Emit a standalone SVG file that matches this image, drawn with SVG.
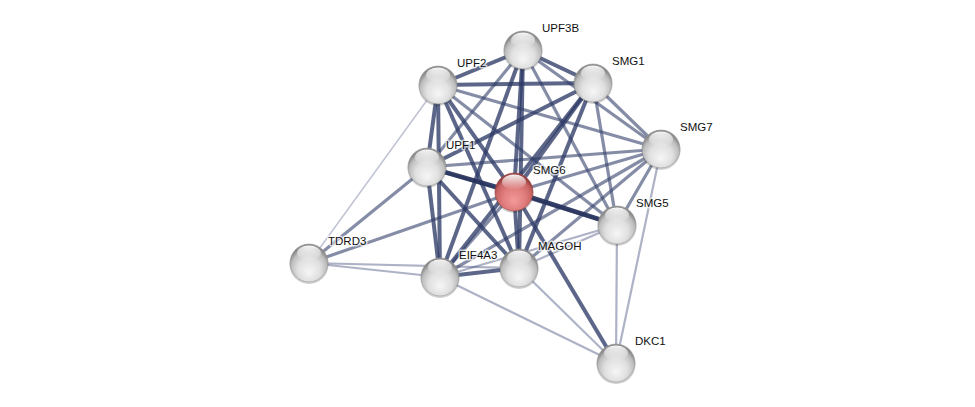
<svg xmlns="http://www.w3.org/2000/svg" width="975" height="407" viewBox="0 0 975 407">
<defs>
<radialGradient id="gw" cx="50%" cy="62%" r="55%" fx="50%" fy="75%">
<stop offset="0" stop-color="#f6f6f6"/>
<stop offset="0.55" stop-color="#e0e0e0"/>
<stop offset="0.85" stop-color="#bdbdbd"/>
<stop offset="1" stop-color="#8a8a8a"/>
</radialGradient>
<radialGradient id="gr" cx="50%" cy="62%" r="55%" fx="50%" fy="75%">
<stop offset="0" stop-color="#f49a9a"/>
<stop offset="0.55" stop-color="#e07c7c"/>
<stop offset="0.85" stop-color="#c86464"/>
<stop offset="1" stop-color="#9a4040"/>
</radialGradient>
<linearGradient id="hl" x1="0" y1="0" x2="0" y2="1">
<stop offset="0" stop-color="#fff" stop-opacity="0.95"/>
<stop offset="1" stop-color="#fff" stop-opacity="0"/>
</linearGradient>
<g id="node">
<circle r="19.5" fill="#000" opacity="0.18" cy="1.5"/>
<circle r="19" fill="url(#gw)" stroke="#9a9a9a" stroke-width="0.6"/>
<ellipse cx="0" cy="-10" rx="12" ry="7.5" fill="url(#hl)"/>
</g>
<g id="rnode">
<circle r="19.5" fill="#000" opacity="0.18" cy="1.5"/>
<circle r="19" fill="url(#gr)" stroke="#a04a4a" stroke-width="0.6"/>
<ellipse cx="0" cy="-10" rx="12" ry="7.5" fill="url(#hl)"/>
</g>
</defs>
<style>
.e0{stroke:#27325c;stroke-width:4.5;stroke-opacity:0.92;fill:none}
.e1{stroke:#2e3b66;stroke-width:4;stroke-opacity:0.78;fill:none}
.e2{stroke:#3a4670;stroke-width:3.2;stroke-opacity:0.62;fill:none}
.e3{stroke:#4a5580;stroke-width:2.2;stroke-opacity:0.45;fill:none}
.e4{stroke:#5a6490;stroke-width:1.6;stroke-opacity:0.38;fill:none}
text{font-family:"Liberation Sans",Arial,sans-serif;font-size:11.5px;fill:#111;stroke:#fff;stroke-width:3;stroke-opacity:0.7;paint-order:stroke;stroke-linejoin:round}
</style>
<rect width="975" height="407" fill="#fff"/>
<g id="edges">
<line class="e4" x1="438" y1="85" x2="309" y2="263"/>
<line class="e3" x1="309" y1="263" x2="440" y2="277"/>
<line class="e3" x1="309" y1="263" x2="519" y2="268"/>
<line class="e3" x1="440" y1="277" x2="616" y2="363"/>
<line class="e3" x1="519" y1="268" x2="616" y2="363"/>
<line class="e3" x1="617" y1="225" x2="616" y2="363"/>
<line class="e3" x1="661" y1="149" x2="616" y2="363"/>
<line class="e3" x1="617" y1="225" x2="519" y2="268"/>
<line class="e3" x1="617" y1="225" x2="440" y2="277"/>
<line class="e2" x1="661" y1="149" x2="519" y2="268"/>
<line class="e2" x1="661" y1="149" x2="440" y2="277"/>
<line class="e2" x1="661" y1="149" x2="617" y2="225"/>
<line class="e2" x1="661" y1="149" x2="514" y2="192"/>
<line class="e2" x1="661" y1="149" x2="427" y2="167"/>
<line class="e2" x1="661" y1="149" x2="438" y2="85"/>
<line class="e2" x1="661" y1="149" x2="523" y2="50"/>
<line class="e2" x1="661" y1="149" x2="593" y2="83"/>
<line class="e2" x1="617" y1="225" x2="593" y2="83"/>
<line class="e2" x1="617" y1="225" x2="523" y2="50"/>
<line class="e2" x1="617" y1="225" x2="438" y2="85"/>
<line class="e2" x1="617" y1="225" x2="427" y2="167"/>
<line class="e2" x1="309" y1="263" x2="427" y2="167"/>
<line class="e2" x1="309" y1="263" x2="514" y2="192"/>
<line class="e2" x1="514" y1="192" x2="440" y2="277"/>
<line class="e2" x1="523" y1="50" x2="427" y2="167"/>
<line class="e1" x1="514" y1="192" x2="616" y2="363"/>
<line class="e1" x1="523" y1="50" x2="438" y2="85"/>
<line class="e1" x1="523" y1="50" x2="593" y2="83"/>
<line class="e1" x1="523" y1="50" x2="514" y2="192"/>
<line class="e1" x1="523" y1="50" x2="519" y2="268"/>
<line class="e1" x1="523" y1="50" x2="440" y2="277"/>
<line class="e1" x1="438" y1="85" x2="593" y2="83"/>
<line class="e1" x1="438" y1="85" x2="427" y2="167"/>
<line class="e1" x1="438" y1="85" x2="514" y2="192"/>
<line class="e1" x1="438" y1="85" x2="440" y2="277"/>
<line class="e1" x1="438" y1="85" x2="519" y2="268"/>
<line class="e1" x1="593" y1="83" x2="427" y2="167"/>
<line class="e1" x1="593" y1="83" x2="514" y2="192"/>
<line class="e1" x1="593" y1="83" x2="519" y2="268"/>
<line class="e1" x1="593" y1="83" x2="440" y2="277"/>
<line class="e1" x1="427" y1="167" x2="440" y2="277"/>
<line class="e1" x1="427" y1="167" x2="519" y2="268"/>
<line class="e1" x1="514" y1="192" x2="519" y2="268"/>
<line class="e1" x1="440" y1="277" x2="519" y2="268"/>
<line class="e0" x1="427" y1="167" x2="514" y2="192"/>
<line class="e0" x1="514" y1="192" x2="617" y2="225"/>
</g>
<g id="n-UPF3B"><use href="#node" x="523" y="50"/><text x="542" y="32">UPF3B</text></g>
<g id="n-UPF2"><use href="#node" x="438" y="85"/><text x="457" y="67">UPF2</text></g>
<g id="n-SMG1"><use href="#node" x="593" y="83"/><text x="612" y="65">SMG1</text></g>
<g id="n-SMG7"><use href="#node" x="661" y="149"/><text x="680" y="131">SMG7</text></g>
<g id="n-UPF1"><use href="#node" x="427" y="167"/><text x="446" y="149">UPF1</text></g>
<g id="n-SMG6"><use href="#rnode" x="514" y="192"/><text x="533" y="174">SMG6</text></g>
<g id="n-SMG5"><use href="#node" x="617" y="225"/><text x="636" y="207">SMG5</text></g>
<g id="n-TDRD3"><use href="#node" x="309" y="263"/><text x="328" y="245">TDRD3</text></g>
<g id="n-EIF4A3"><use href="#node" x="440" y="277"/><text x="459" y="259">EIF4A3</text></g>
<g id="n-MAGOH"><use href="#node" x="519" y="268"/><text x="538" y="250">MAGOH</text></g>
<g id="n-DKC1"><use href="#node" x="616" y="363"/><text x="635" y="345">DKC1</text></g>
</svg>
